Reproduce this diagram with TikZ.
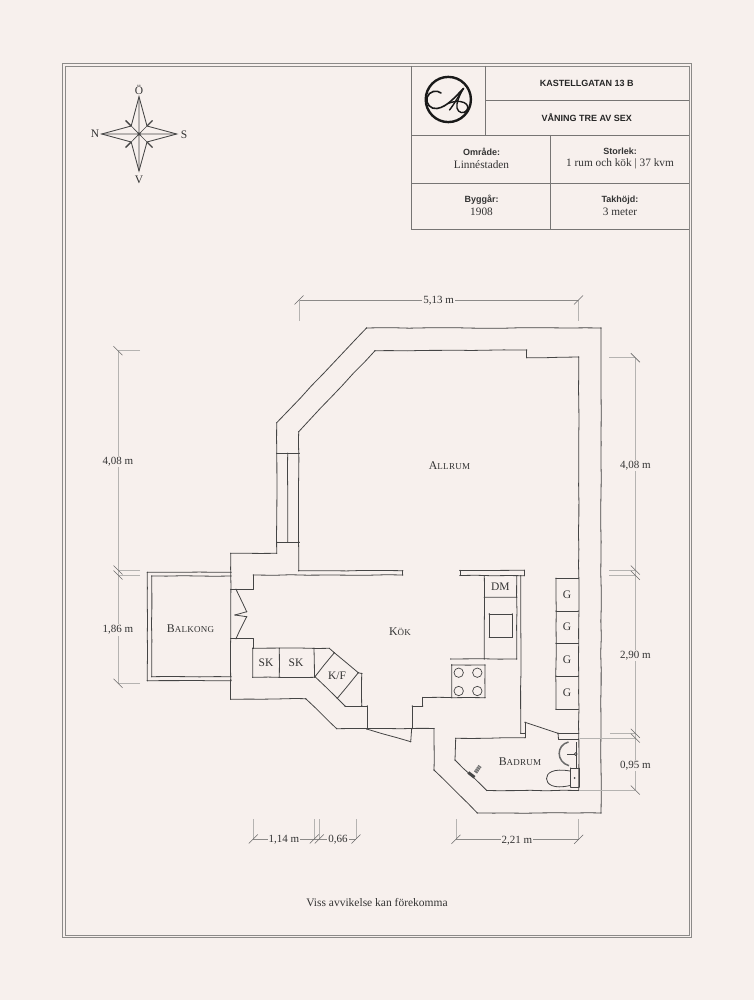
\documentclass[tikz,border=0pt]{standalone}
\usepackage{fontspec}
\usetikzlibrary{decorations.pathmorphing}
\setmainfont{Liberation Serif}
\newfontfamily\labelsans{Liberation Sans}
\definecolor{paper}{HTML}{F7F0ED}
\definecolor{ink}{HTML}{454545}
\definecolor{textink}{HTML}{333333}
\definecolor{rule}{HTML}{8C8A88}
\definecolor{dimline}{HTML}{B5B3B1}
\tikzset{
  wall/.style={draw=ink,line width=0.8pt,line cap=round,decorate,decoration={random steps,segment length=16pt,amplitude=0.3pt}},
  frame line/.style={draw=rule,line width=0.95pt},
  cell line/.style={draw=rule!85!black,line width=0.95pt},
  dim v/.style={draw=dimline,line width=1pt},
  dim h/.style={draw=rule,line width=0.6pt},
  dim ext/.style={draw=dimline,line width=0.8pt},
  tick mark/.style={draw=ink!80,line width=0.6pt},
  measure/.style={font=\fontsize{11}{12}\selectfont,text=textink,fill=paper,inner sep=1.2pt,yshift=-0.7pt},
  room/.style={text=textink,inner sep=0pt,yshift=-0.5pt},
  fixture/.style={font=\fontsize{11.5}{12}\selectfont,text=textink,inner sep=0pt,yshift=-0.5pt},
  head/.style={font=\labelsans\bfseries\fontsize{9}{10}\selectfont,text=black!85,inner sep=0pt},
  info/.style={align=center,inner sep=0pt,text=textink,font=\fontsize{11.3}{12.6}\selectfont},
  compass/.style={draw=ink,line width=0.85pt,line join=miter},
  logo/.style={draw=black!90,line width=1.6pt,line cap=round},
}
\newcommand{\infotext}[2]{{\labelsans\bfseries\fontsize{9}{10}\selectfont #1}\\#2}
\newcommand{\fakesc}[2]{{\fontsize{11.8}{12}\selectfont #1\fontsize{9}{12}\selectfont\addfontfeature{LetterSpace=3}#2}}
% polyline whose every straight run wobbles on its own, so corners stay put
\newcommand{\sketch}[1]{%
  \def\havepoint{0}%
  \foreach \cx/\cy in {#1}{%
    \ifnum\havepoint=1 \draw[wall] (\lastx,\lasty) -- (\cx,\cy);\fi
    \fill[ink] (\cx,\cy) circle (0.6);
    \global\let\lastx\cx \global\let\lasty\cy \gdef\havepoint{1}%
  }%
}
\begin{document}
\begin{tikzpicture}[x=1pt,y=-1pt]
\pgfmathsetseed{7}
\fill[paper] (0,0) rectangle (754,1000);
\useasboundingbox (0,0) rectangle (754,1000);
% frames
\draw[frame line] (62.5,63.5) rectangle (691.5,937);
\draw[frame line] (65,66) rectangle (689,935);
% title table
\draw[cell line] (411.7,66) -- (411.7,229.8) -- (689,229.8);
\draw[cell line] (485.3,66) -- (485.3,135);
\draw[cell line] (485.3,100.5) -- (689,100.5);
\draw[cell line] (411.7,135) -- (689,135);
\draw[cell line] (411.7,183) -- (689,183);
\draw[cell line] (550.7,135) -- (550.7,229.8);
\node[head] (title) at (586.7,83) {KASTELLGATAN 13 B};
\node[head] (floor) at (586.7,118) {VÅNING TRE AV SEX};
\node[info] (area) at (481.5,158.5) {\infotext{Område:}{Linnéstaden}};
\node[info] (size) at (620,158.5) {\infotext{Storlek:}{1 rum och kök | 37 kvm}};
\node[info] (year) at (481.5,205.5) {\infotext{Byggår:}{1908}};
\node[info] (height) at (620,205.5) {\infotext{Takhöjd:}{3 meter}};
% logo
\draw[black!90,line width=2.4pt] (448.3,99.5) circle (22.6);
\draw[logo] (441,93) .. controls (437,89.5) and (429,91) .. (427,97.5)
  .. controls (425.5,104) and (431,109.5) .. (437,108.5)
  .. controls (447,107) and (455,97) .. (463.5,88.5);
\draw[logo,line width=1.4pt] (463.5,88.5) .. controls (459,95) and (455,103) .. (449.5,110);
\draw[logo,line width=1.4pt] (463,89) .. controls (459,96) and (456,104) .. (457,108)
  .. controls (458,113) and (464,114.5) .. (467,110)
  .. controls (469.5,106) and (466,102) .. (460,101.5)
  .. controls (456,101) and (452,102) .. (448,103.5);
% compass
\draw[compass] (139,96.7) -- (147,126) -- (176.7,134) -- (147,142) -- (139,171) -- (131.2,142) -- (101.7,134) -- (131.2,126) -- cycle;
\draw[compass,line width=0.6pt] (139,96.7) -- (139,171) (101.7,134) -- (176.7,134) (131.2,126) -- (147,142) (147,126) -- (131.2,142);
\draw[compass,line width=1.4pt] (131.2,126) -- (125.5,120.5) (147,126) -- (152.5,120.5) (131.2,142) -- (125.5,147.5) (147,142) -- (152.5,147.5);
\fill[ink] (139,134) circle (1.3);
\node[fixture] (north) at (139,89) {Ö};
\node[fixture] (west) at (95,133.7) {N};
\node[fixture] (east) at (184,134) {S};
\node[fixture] (south) at (139,179) {V};
% walls
\sketch{230.7/680,230.7/699.3,305.7/698.7,336.7/728.7,434/728.4,434/770,477.3/813,601/813,601/328,366.5/328,276.7/422.7,276.7/553.3,230.7/553.3,230.7/680}
\sketch{298.7/570.7,298.7/431.7,375/350.7,526.7/350,526.7/357.7,578.7/357,578.7/790.5,486.7/790.5,455/760,455.7/738.3,525/737.7,525/722.3,558/733.3,578.7/733.3}
\sketch{558/733.3,558.5/739,578.7/739}
\sketch{287.7/453.3,287.7/542.3}
\sketch{276.7/453.3,299.3/453.3}
\sketch{276.7/542.3,299.3/542.3}
\sketch{298.7/570.7,402.7/570.7,402.7/575,253.3/575,253.3/589.3,230.7/589.3}
\sketch{460/570.5,524.3/570.2,524.3/575.7,460/575.5,460/570.5}
\sketch{520.7/575.7,520.7/733.3,525/733.3}
% balcony
\sketch{231/572.3,147.3/572.3,147.3/680.7,231/680.7}
\sketch{231/576,151.7/576,151.7/676.7,231/676.7}
% balcony door
\sketch{236/589.3,246.7/611.7,235/615,246.7/616.7,236/638.7}
\sketch{230.7/638.7,253.3/638.7,253.3/648.3}
% kitchen south wall
\sketch{361.7/673.5,361.7/706,345/706,337.3/698.3}
\sketch{361.7/706,367.3/706,367.3/728.7}
\sketch{412.3/728.4,412.3/706,422.7/706,422.7/697.5,451/697.5}
\sketch{366.7/729,410.7/741.7,411.7/728.4}
% closets and fridge
\sketch{252.7/648.3,329.3/648.3,334.3/652.7,358.3/672.7,361.7/673.5}
\sketch{252.7/648.3,252.7/677.3,315/677.3}
\sketch{279.3/648.3,279.3/677.3}
\sketch{314/648.3,314.5/677}
\sketch{334.3/652.7,315/676.7,337.3/698.3,358.3/672.7}
% kitchen counter
\sketch{484.3/575.7,484.3/659}
\sketch{450.7/659,516.7/659,516.7/575.7}
\sketch{484.3/597.3,516.7/597.3}
\sketch{489.3/614,512.3/614,512.3/637.3,489.3/637.3,489.3/614}
\sketch{451.7/665,485/665,485/697.7,451.7/697.7,451.7/665}
\foreach \bx/\by in {458.7/672.7,477.3/672.7,458.7/691,477.3/691}{\draw[ink,line width=0.7pt] (\bx,\by) circle (4.7);}
% wardrobes
\sketch{578.3/578.3,556/578.3,556/709.3,578.3/709.3}
\sketch{556/611,578.3/611}
\sketch{556/643.3,578.3/643.3}
\sketch{556/676,578.3/676}
% bathroom fixtures
\draw[ink!80,line width=1.5pt] (568.5,742) .. controls (556,745) and (556,762) .. (569,765.7);
\draw[ink,line width=0.6pt] (576.7,742) -- (576.7,769);
\draw[ink,line width=0.9pt] (567,754) -- (574.5,754);
\draw[ink,line width=0.8pt] (575.7,754) circle (1.4);
\sketch{570.7/768.3,579/768.3,579/787,570.7/787,570.7/768.3}
\draw[ink,line width=0.8pt] (570,771) .. controls (553,768) and (546.5,773) .. (546.5,778.5) .. controls (546.5,784) and (553,789.5) .. (570,785.5);
\fill[ink] (574.7,778) circle (1);
\draw[ink,line width=3pt] (468.3,772.5) -- (474.5,777.3);
\draw[ink!75,line width=3.8pt,dash pattern=on 1.6pt off 0.6pt] (475.5,772.5) -- (480,766);
% dimension lines
\draw[dim ext] (140,350.7) -- (118,350.7) (140,570) -- (118,570) (140,575) -- (118,575) (140,683.3) -- (118,683.3);
\draw[dim v] (118,350.7) -- (118,683.3);
\draw[dim ext] (609.3,357.7) -- (635.3,357.7) (609.3,570) -- (635.3,570) (609.3,575.3) -- (635.3,575.3) (610,733.3) -- (635.3,733.3) (580,738) -- (635.3,738) (580,790) -- (635.3,790);
\draw[dim v] (635.3,357.7) -- (635.3,790);
\draw[dim h] (299,300) -- (578.5,300);
\draw[dim ext] (299,300) -- (299,321) (578.5,300) -- (578.5,321);
\draw[dim h] (253.3,839) -- (356,839);
\draw[dim h] (456,839.3) -- (578.7,839.3);
\draw[dim ext] (253.3,819.3) -- (253.3,839) (314.3,819.3) -- (314.3,839) (319.3,819.3) -- (319.3,839) (356,819.3) -- (356,839) (456,819.3) -- (456,839.3) (578.7,819.3) -- (578.7,839.3);
\foreach \tx/\ty in {118/350.7,118/570,118/575,118/683.3,635.3/357.7,635.3/570,635.3/575.3,635.3/733.3,635.3/738,635.3/790}{\draw[tick mark] (\tx-4.5,\ty-4.5) -- (\tx+4.5,\ty+4.5);}
\foreach \tx/\ty in {299/300,578.5/300,253.3/839,314.3/839,319.3/839,356/839,456/839.3,578.7/839.3}{\draw[tick mark] (\tx-4.5,\ty+4.5) -- (\tx+4.5,\ty-4.5);}
\node[measure] (d513) at (438.7,300) {5,13 m};
\node[measure] (d408l) at (118,461) {4,08 m};
\node[measure] (d186) at (118,629.3) {1,86 m};
\node[measure] (d408r) at (635.3,464.5) {4,08 m};
\node[measure] (d290) at (635.3,654.5) {2,90 m};
\node[measure] (d095) at (635.3,764.5) {0,95 m};
\node[measure] (d114) at (284,839) {1,14 m};
\node[measure] (d066) at (338,839) {0,66};
\node[measure] (d221) at (517,839.5) {2,21 m};
% room names
\node[room] (allrum) at (449.5,465.5) {\fakesc{A}{LLRUM}};
\node[room] (balkong) at (190.5,628) {\fakesc{B}{ALKONG}};
\node[room] (kok) at (400,631) {\fakesc{K}{ÖK}};
\node[room] (badrum) at (520,761.5) {\fakesc{B}{ADRUM}};
\node[fixture] (sk1) at (266,662.5) {SK};
\node[fixture] (sk2) at (296,662.5) {SK};
\node[fixture] (kf) at (337,675) {K/F};
\node[fixture] (dm) at (500.3,586) {DM};
\node[fixture] (g1) at (567,594.5) {G};
\node[fixture] (g2) at (567,626) {G};
\node[fixture] (g3) at (567,659) {G};
\node[fixture] (g4) at (567,692.5) {G};
\node[fixture] (note) at (377,902) {Viss avvikelse kan förekomma};
\end{tikzpicture}
\end{document}
